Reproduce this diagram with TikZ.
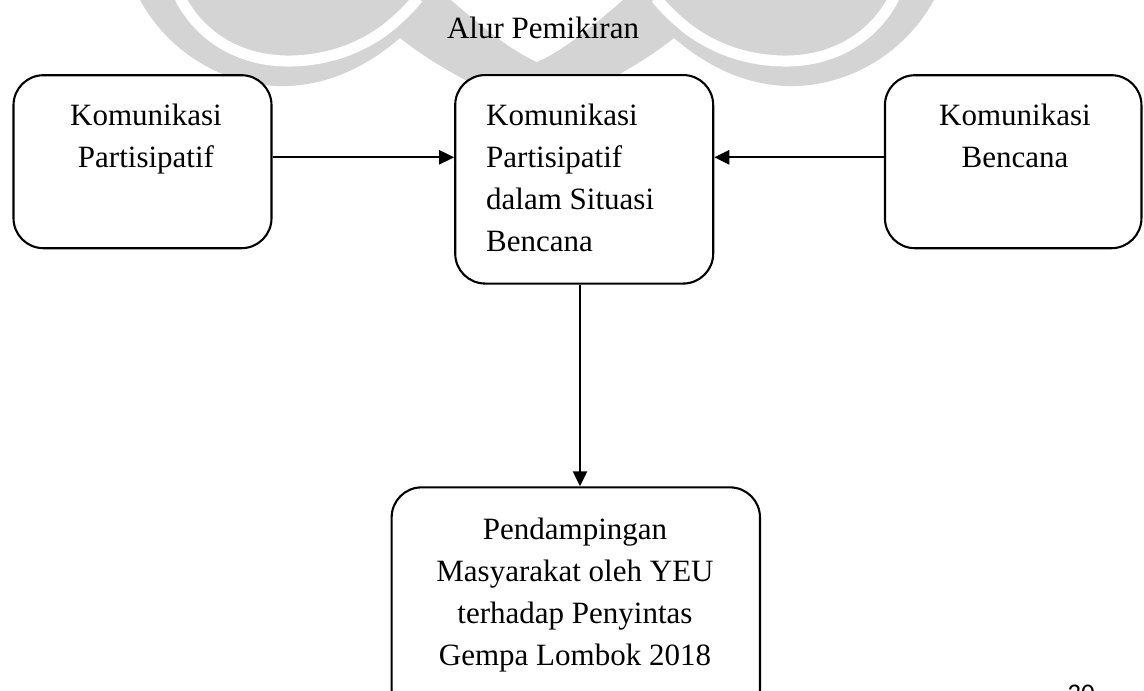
\documentclass[tikz,border=0pt]{standalone}
\usepackage{fontspec}
\setmainfont{Liberation Serif}
\newfontfamily\pagefont{Carlito}
\usetikzlibrary{arrows.meta}
\definecolor{wmgray}{RGB}{212,212,212}
\begin{document}
\begin{tikzpicture}[x=1pt,y=-1pt,
  box/.style={draw=black, line width=2.1pt, rounded corners=30pt, fill=white, inner sep=0pt},
  txt/.style={inner sep=0pt, font=\fontsize{31}{42.3}\selectfont},
  txtb/.style={inner sep=0pt, font=\fontsize{31}{41.7}\selectfont},
  link/.style={line width=2.3pt, -{Triangle[length=15pt,width=14pt]}},
  band/.style={draw=white, line width=11pt},
]
\useasboundingbox (0,0) rectangle (1144,691);
\clip (0,0) rectangle (1144,691);
\fill[white] (0,0) rectangle (1144,691);
% watermark
\fill[wmgray] (140,0) .. controls (172,58) and (232,88) .. (288,86)
  .. controls (335,84) and (372,62) .. (400,38)
  .. controls (440,70) and (500,100) .. (537,110)
  .. controls (574,100) and (634,70) .. (674,38)
  .. controls (702,62) and (739,84) .. (786,86)
  .. controls (842,88) and (902,58) .. (934,0) -- cycle;
\draw[band] (180,-2) .. controls (205,45) and (250,62) .. (292,61)
  .. controls (330,60) and (360,48) .. (385,30)
  .. controls (400,18) and (410,8) .. (418,-2);
\draw[band] (894,-2) .. controls (869,45) and (824,62) .. (782,61)
  .. controls (744,60) and (714,48) .. (689,30)
  .. controls (674,18) and (664,8) .. (656,-2);
\fill[white] (450,-1) .. controls (480,25) and (510,50) .. (537,62)
  .. controls (564,50) and (594,25) .. (624,-1) -- cycle;
% title
\node[txt, anchor=base] (title) at (543,38) {Alur Pemikiran};
% boxes
\node[box, minimum width=258pt, minimum height=173pt] (b1) at (142.5,161.7) {};
\node[box, minimum width=258pt, minimum height=208.5pt] (b2) at (584.2,179.3) {};
\node[box, minimum width=256.5pt, minimum height=173pt] (b3) at (1013.2,161.7) {};
\node[box, minimum width=368.3pt, minimum height=232.7pt] (b4) at (575.8,603.7) {};
% texts (anchor base = baseline of last line)
\node[txt, align=center, anchor=base] (t1) at (146,167.8) {Komunikasi\\Partisipatif};
\node[txt, align=left, anchor=base west] (t2) at (486,251.9) {Komunikasi\\Partisipatif\\dalam Situasi\\Bencana};
\node[txt, align=center, anchor=base] (t3) at (1015,167.8) {Komunikasi\\Bencana};
\node[txtb, align=center, anchor=base] (t4) at (575,665) {Pendampingan\\Masyarakat oleh YEU\\terhadap Penyintas\\Gempa Lombok 2018};
% connectors
\coordinate (row) at (0,157.3);
\coordinate (col) at (580,0);
\draw[link] (b1.east |- row) -- (b2.west |- row);
\draw[link] (b3.west |- row) -- (b2.east |- row);
\draw[link] (b2.south -| col) -- (b4.north -| col);
% page number
\node[font=\pagefont\fontsize{27}{27}\selectfont, anchor=base, inner sep=0pt] (pg) at (1081,702) {30};
\end{tikzpicture}
\end{document}
